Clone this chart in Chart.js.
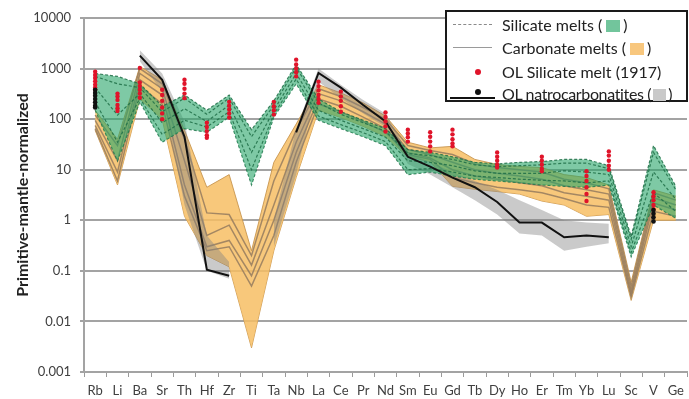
<!DOCTYPE html>
<html>
<head>
<meta charset="utf-8">
<script src="https://cdn.jsdelivr.net/npm/chart.js@4/dist/chart.umd.min.js"></script>
<style>
html,body{margin:0;padding:0;overflow:hidden;background:#fff;}
#wrap{position:relative;width:691px;height:399px;}
#chart{position:absolute;left:0;top:0;}
#legend{position:absolute;left:445px;top:10px;width:239px;height:88px;border:2px solid #1a1a1a;background:#fff;font-family:Lato,sans-serif;font-size:16px;color:#222;}
#legend .txt{position:absolute;left:55px;height:20px;line-height:20px;white-space:nowrap;}
#legend .sq{display:inline-block;width:14px;height:12px;vertical-align:-1px;margin:0 3px 0 4px;}
#legend .ln{position:absolute;left:6px;width:39px;height:0;}
#legend .dot{position:absolute;border-radius:50%;}
</style>
</head>
<body>
<div id="wrap">
<canvas id="chart" width="691" height="399"></canvas>
<div id="legend">
  <div class="ln" style="top:12px;border-top:1.5px dashed #8a8a8a;"></div>
  <div class="txt" style="top:3px;">Silicate melts (<span class="sq" style="background:#72c59c;"></span>)</div>
  <div class="ln" style="top:35px;border-top:1.5px solid #9a9a9a;"></div>
  <div class="txt" style="top:26px;">Carbonate melts (<span class="sq" style="background:#f8c77e;"></span>)</div>
  <div class="dot" style="left:28px;top:57px;width:6px;height:6px;background:#e0142a;"></div>
  <div class="txt" style="top:50px;">OL Silicate melt (1917)</div>
  <div class="ln" style="left:3px;width:45px;top:85px;border-top:2px solid #111;"></div>
  <div class="dot" style="left:28px;top:77px;width:6px;height:6px;background:#111;"></div>
  <div class="txt" style="top:72px;letter-spacing:-0.35px;">OL natrocarbonatites (<span class="sq" style="background:#c9c9c9;margin:0 2px;width:13px;"></span>)</div>
</div>
</div>
<script>
const categories = ['Rb','Li','Ba','Sr','Th','Hf','Zr','Ti','Ta','Nb','La','Ce','Pr','Nd','Sm','Eu','Gd','Tb','Dy','Ho','Er','Tm','Yb','Lu','Sc','V','Ge'];

const yTicks = [0.001, 0.01, 0.1, 1, 10, 100, 1000, 10000];
const yTickLabels = ['0.001','0.01','0.1','1','10','100','1000','10000'];

// Silicate melts envelope and individual (dashed) patterns
const silicateUpper = [800,700,500,180,300,150,300,62,230,1200,250,140,95,65,25,22,18,14,13,14,14.5,16,16,12,0.48,30,4.7];
const silicateLower = [150,15,220,35,65,55,110,5,110,500,95,65,45,30,8,9,7.5,6.5,6,5.5,5,4.7,4.5,5,0.19,2,1.1];
const silicateLineA = [700,500,420,140,260,125,260,45,190,1050,210,125,85,58,21,19,16,12.5,11.5,12,12.5,13.5,13.5,10.5,0.42,22,4];
const silicateLineB = [420,120,320,85,160,90,190,22,150,800,150,95,65,44,15,14,12,9.5,8.5,8.5,8.5,9.5,9,8,0.3,9,2.6];
const silicateLineC = [220,35,260,50,95,70,140,10,125,620,115,78,54,36,10,10.5,9,7.5,7,6.5,6.2,6,5.5,6,0.23,3.5,1.5];

// Carbonate melts envelope and individual patterns
const carbonateUpper = [150,40,1100,600,60,4.5,8,0.25,14,80,480,330,210,115,35,27,29,16,12.7,11.6,11,8,7,5,0.06,4,3];
const carbonateLower = [60,5,250,100,1.2,0.2,0.12,0.003,0.25,7,150,108,72,45,18,14.5,4.7,4.1,3.7,3.3,2.4,2,1.2,1.3,0.026,1,1];
const carbonateLineA = [120,30,1000,500,40,1.4,1.3,0.2,6,60,400,280,170,100,30,24,20,13,11,10,9,6.5,5.5,4.2,0.05,3.5,2.5];
const carbonateLineB = [95,15,800,400,15,0.5,0.8,0.13,2,35,320,230,140,80,25,20,14,10,8.5,7.5,6.5,4.8,4,3.3,0.04,2.8,2];
const carbonateLineC = [75,9,600,300,5,0.3,0.4,0.08,1,22,250,180,110,65,22,17,10,7.5,6.5,5.5,4.8,3.5,3,2.5,0.034,2.2,1.6];
const carbonateLineD = [65,6,450,200,3,0.25,0.3,0.05,0.5,14,200,140,90,55,20,16,7,5.5,4.5,4,3.5,2.7,2,1.8,0.03,1.5,1.2];

// OL natrocarbonatites envelope and mean
const natroUpper = [null,null,2300,800,90,0.5,0.15,null,1.0,65,1000,480,240,130,22,14,9,6,4,2.5,1.6,1.0,0.9,0.85,null,null,null];
const natroLower = [null,null,1400,350,2,0.1,0.07,null,0.3,8,550,260,130,70,13,8,4.5,2.5,1.3,0.55,0.5,0.25,0.3,0.35,null,null,null];
const natroMean  = [null,null,1800,600,45,0.105,0.08,null,null,55,820,420,190,90,18,11.5,7,4.5,2.3,0.9,0.9,0.46,0.5,0.46,null,null,null];
const natroRb = [380,330,290,250,215,185,170];
const natroV = [1.6,1.35,1.15,0.95];

// OL silicate melt (1917) analyses, per element
const olSilicateMelt = [
  [870,750,650,560,480,420,380],   // Rb
  [320,280,240,190,165,145],       // Li
  [1030,530,450,380,320,265],      // Ba
  [380,300,230,170,130,100],       // Sr
  [600,500,400,320,260],           // Th
  [85,70,58,48,43],                // Hf
  [220,185,155,130,108],           // Zr
  [],                              // Ti
  [220,180,150,123],               // Ta
  [1500,1200,1000,850,700],        // Nb
  [550,450,370,300,250,210],       // La
  [350,280,230,180,140],           // Ce
  [],                              // Pr
  [135,110,90,72,57],              // Nd
  [62,52,44,36],                   // Sm
  [55,45,36,29,23],                // Eu
  [62,50,40,33,29],                // Gd
  [],                              // Tb
  [22,18,15,12.5,11],              // Dy
  [],                              // Ho
  [18,15,12.5,10.5,9.3],           // Er
  [],                              // Tm
  [9.3,7.5,6,4.5,3.3,2.4],         // Yb
  [23,19,15,12,10],                // Lu
  [],                              // Sc
  [3.6,3.0,2.5,2.0,1.65],          // V
  []                               // Ge
];

const GREEN_FILL = 'rgba(40,165,105,0.6)';
const GREEN_LINE = 'rgba(30,110,70,0.85)';
const ORANGE_FILL = 'rgba(247,190,100,0.85)';
const ORANGE_EDGE = 'rgba(200,150,80,0.9)';
const ORANGE_LINE = 'rgba(150,125,95,0.85)';
const GRAY_FILL = 'rgba(128,128,128,0.42)';

function lineDs(data, color, width, dash, order, fill, bg) {
  return {
    data: data, borderColor: color, borderWidth: width, borderDash: dash || [],
    pointRadius: 0, fill: fill || false, backgroundColor: bg || 'transparent',
    order: order, spanGaps: false, tension: 0
  };
}

const olPoints = [];
olSilicateMelt.forEach((vals, i) => vals.forEach(v => olPoints.push({x: categories[i], y: v})));
const natroPts = natroRb.map(v => ({x: 'Rb', y: v})).concat(natroV.map(v => ({x: 'V', y: v})));

const datasets = [
  lineDs(carbonateUpper, ORANGE_EDGE, 1, [], 60, '+1', ORANGE_FILL),
  lineDs(carbonateLower, ORANGE_EDGE, 1, [], 60),
  lineDs(carbonateLineA, ORANGE_LINE, 1.5, [], 55),
  lineDs(carbonateLineB, ORANGE_LINE, 1.5, [], 55),
  lineDs(carbonateLineC, ORANGE_LINE, 1.5, [], 55),
  lineDs(carbonateLineD, ORANGE_LINE, 1.5, [], 55),
  lineDs(natroUpper, 'rgba(0,0,0,0)', 0, [], 50, '+1', GRAY_FILL),
  lineDs(natroLower, 'rgba(0,0,0,0)', 0, [], 50),
  lineDs(silicateUpper, GREEN_LINE, 1.2, [3,2], 40, '+1', GREEN_FILL),
  lineDs(silicateLower, GREEN_LINE, 1.2, [3,2], 40),
  lineDs(silicateLineA, GREEN_LINE, 1.2, [3,2], 35),
  lineDs(silicateLineB, GREEN_LINE, 1.2, [3,2], 35),
  lineDs(silicateLineC, GREEN_LINE, 1.2, [3,2], 35),
  lineDs(natroMean, '#111', 2, [], 20),
  { data: olPoints, showLine: false, pointRadius: 2.2, pointBorderWidth: 0,
    pointBackgroundColor: '#e0142a', pointStyle: 'circle', order: 10 },
  { data: natroPts, showLine: false, pointRadius: 2.3, pointBorderWidth: 0,
    pointBackgroundColor: '#111', pointStyle: 'circle', order: 5 }
];

new Chart(document.getElementById('chart'), {
  type: 'line',
  data: { labels: categories, datasets: datasets },
  options: {
    responsive: false,
    animation: false,
    events: [],
    devicePixelRatio: 1,
    layout: { padding: { top: 18, left: 0, right: 0, bottom: 0 } },
    plugins: { legend: { display: false }, tooltip: { enabled: false } },
    scales: {
      x: {
        type: 'category',
        offset: true,
        grid: { display: true, drawOnChartArea: false, drawTicks: true, tickLength: 5, offset: true, color: '#9a9a9a', lineWidth: 1 },
        border: { display: true, color: '#a3a3a3', width: 2 },
        ticks: { color: '#404040', font: { family: 'Lato', size: 13 }, padding: 6, autoSkip: false, maxRotation: 0 },
        afterFit: s => { s.height = 27; }
      },
      y: {
        type: 'logarithmic',
        min: 0.001, max: 10000,
        afterBuildTicks: s => { s.ticks = yTicks.map(v => ({ value: v })); },
        ticks: { color: '#404040', font: { family: 'Lato', size: 13 }, padding: 9,
                 callback: (v, i) => yTickLabels[i] },
        grid: { color: '#a3a3a3', lineWidth: 2, tickLength: 4, drawTicks: true },
        border: { display: true, color: '#a3a3a3', width: 2 },
        title: { display: true, text: 'Primitive-mantle-normalized', color: '#222',
                 font: { family: 'Lato', size: 16, weight: 'bold' }, padding: { top: 13, bottom: 0 } },
        afterFit: s => { s.width = 84; }
      }
    }
  }
});
</script>
</body>
</html>
